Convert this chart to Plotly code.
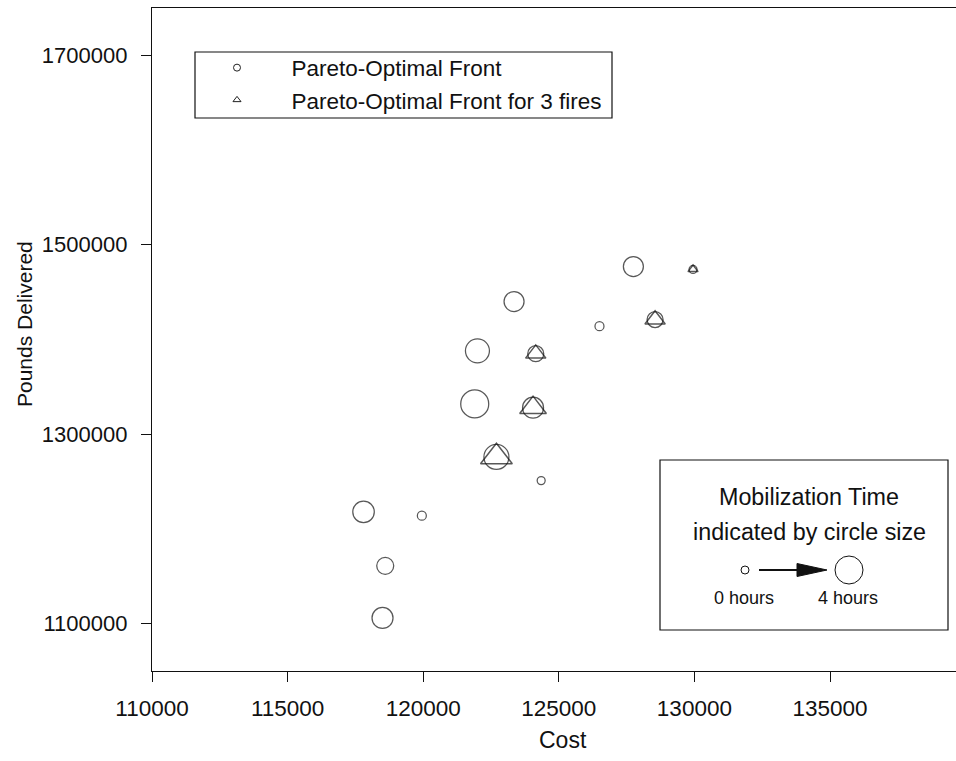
import plotly.graph_objects as go

# ---- data ----
cost = [117800, 118500, 118600, 119950, 121900, 122000, 122700, 123350,
        124050, 124150, 124350, 126500, 127750, 128550, 129950]
pounds = [1218000, 1106000, 1161000, 1214000, 1332000, 1388000, 1276000, 1440000,
          1328000, 1385000, 1251000, 1414000, 1477000, 1421000, 1474000]
mob_hours = [2.7, 2.6, 1.8, 0.2, 4.0, 3.2, 3.4, 2.4,
             2.6, 1.6, 0.0, 0.2, 2.4, 1.6, 0.0]
three_fires = [False, False, False, False, False, False, True, False,
               True, True, False, False, False, True, True]

x_ticks = [110000, 115000, 120000, 125000, 130000, 135000]
y_ticks = [1100000, 1300000, 1500000, 1700000]
key_hours = [0, 4]

# ---- styling ----
FONT = "Liberation Sans, Arial, Helvetica, sans-serif"
FS = 21
LFS = 22.5
BFS = 23.3
L, R, T, B = 152, 0, 8, 90
W, H = 956, 761
PW, PH = W - L - R, H - T - B
NB = "\u00a0"


def diam(h):
    return 8 + 5 * h


def px(X):
    return (X - L) / PW


def py(Y):
    return (H - B - Y) / PH


def ann(x, y, text, size=FS, **kw):
    d = dict(xref="paper", yref="paper", x=px(x), y=py(y), text=text,
             showarrow=False, xanchor="center", yanchor="middle",
             font=dict(size=size, family=FONT, color="#111"))
    d.update(kw)
    return d


fig = go.Figure()

fig.add_trace(go.Scatter(
    x=cost, y=pounds, mode="markers", showlegend=False, hoverinfo="skip",
    marker=dict(symbol="circle-open", size=[diam(h) for h in mob_hours],
                color="#111", line=dict(width=1.25, color="#111")),
))
tx = [c for c, f in zip(cost, three_fires) if f]
ty = [p for p, f in zip(pounds, three_fires) if f]
th = [h for h, f in zip(mob_hours, three_fires) if f]
fig.add_trace(go.Scatter(
    x=tx, y=ty, mode="markers", showlegend=False, hoverinfo="skip",
    marker=dict(symbol="triangle-up-open", size=[diam(h) * 1.1 for h in th],
                color="#111", line=dict(width=1.5, color="#111")),
))
# legend entries
fig.add_trace(go.Scatter(
    x=[None], y=[None], mode="markers", name=NB * 2 + "Pareto-Optimal Front",
    marker=dict(symbol="circle-open", size=7, color="#222", line=dict(width=1, color="#222")),
))
fig.add_trace(go.Scatter(
    x=[None], y=[None], mode="markers", name=NB * 2 + "Pareto-Optimal Front for 3 fires",
    marker=dict(symbol="triangle-up-open", size=7, color="#222", line=dict(width=1, color="#222")),
))

shapes = []
annotations = []

# legend frame
shapes.append(dict(type="rect", xref="paper", yref="paper",
                   x0=px(195), x1=px(612), y0=py(118), y1=py(52),
                   line=dict(color="#111", width=1.2), layer="above"))

# Mobilization key box
shapes.append(dict(type="rect", xref="paper", yref="paper",
                   x0=px(660), x1=px(948), y0=py(630), y1=py(460),
                   line=dict(color="#111", width=1.2), fillcolor="white", layer="below"))
annotations.append(ann(809, 497, "Mobilization Time", size=BFS))
annotations.append(ann(809, 532, "indicated by circle size", size=BFS))
for cx, h, lab in zip([745, 849], key_hours, ["0 hours", "4 hours"]):
    d = diam(h)
    shapes.append(dict(type="circle", xref="paper", yref="paper",
                       xsizemode="pixel", ysizemode="pixel",
                       xanchor=px(cx), yanchor=py(570),
                       x0=-d / 2, x1=d / 2, y0=-d / 2, y1=d / 2,
                       line=dict(color="#111", width=1)))
    annotations.append(ann(cx - 1, 598, lab, size=18))
# arrow
shapes.append(dict(type="line", xref="paper", yref="paper",
                   x0=px(759), x1=px(800), y0=py(570), y1=py(570),
                   line=dict(color="#111", width=1.8)))
shapes.append(dict(type="path", xref="paper", yref="paper",
                   path=f"M {px(797)},{py(563.5)} L {px(827)},{py(570)} L {px(797)},{py(576.5)} Z",
                   fillcolor="#111", line=dict(color="#111", width=1)))

# axis titles
annotations.append(ann(24, 324, "Pounds Delivered", textangle=-90))
annotations.append(ann(563, 740, "Cost", size=23))

fig.update_layout(
    width=W, height=H,
    margin=dict(l=L, r=R, t=T, b=B, pad=0),
    paper_bgcolor="white", plot_bgcolor="white",
    font=dict(family=FONT, size=FS, color="#111"),
    shapes=shapes, annotations=annotations,
    showlegend=True,
    legend=dict(x=px(195), y=py(46.5), xanchor="left", yanchor="top",
                borderwidth=0, bgcolor="rgba(0,0,0,0)",
                font=dict(size=LFS, family=FONT, color="#111"),
                itemwidth=74, tracegroupgap=0),
    xaxis=dict(range=[110000, 110000 + PW / 135.6 * 5000],
               tickvals=x_ticks, tickformat="d",
               showline=True, linecolor="#111", linewidth=1.2, mirror=True,
               ticks="outside", ticklen=10, tickcolor="#111", tickwidth=1,
               ticklabelstandoff=7,
               showgrid=False, zeroline=False,
               tickfont=dict(size=22.5, family=FONT, color="#111")),
    yaxis=dict(range=[1050000, 1750000],
               tickvals=y_ticks, tickformat="d",
               showline=True, linecolor="#111", linewidth=1.2,
               ticks="outside", ticklen=10, tickcolor="#111", tickwidth=1,
               ticklabelstandoff=9,
               showgrid=False, zeroline=False,
               tickfont=dict(size=22, family=FONT, color="#111")),
)

fig.write_html("out.html")
